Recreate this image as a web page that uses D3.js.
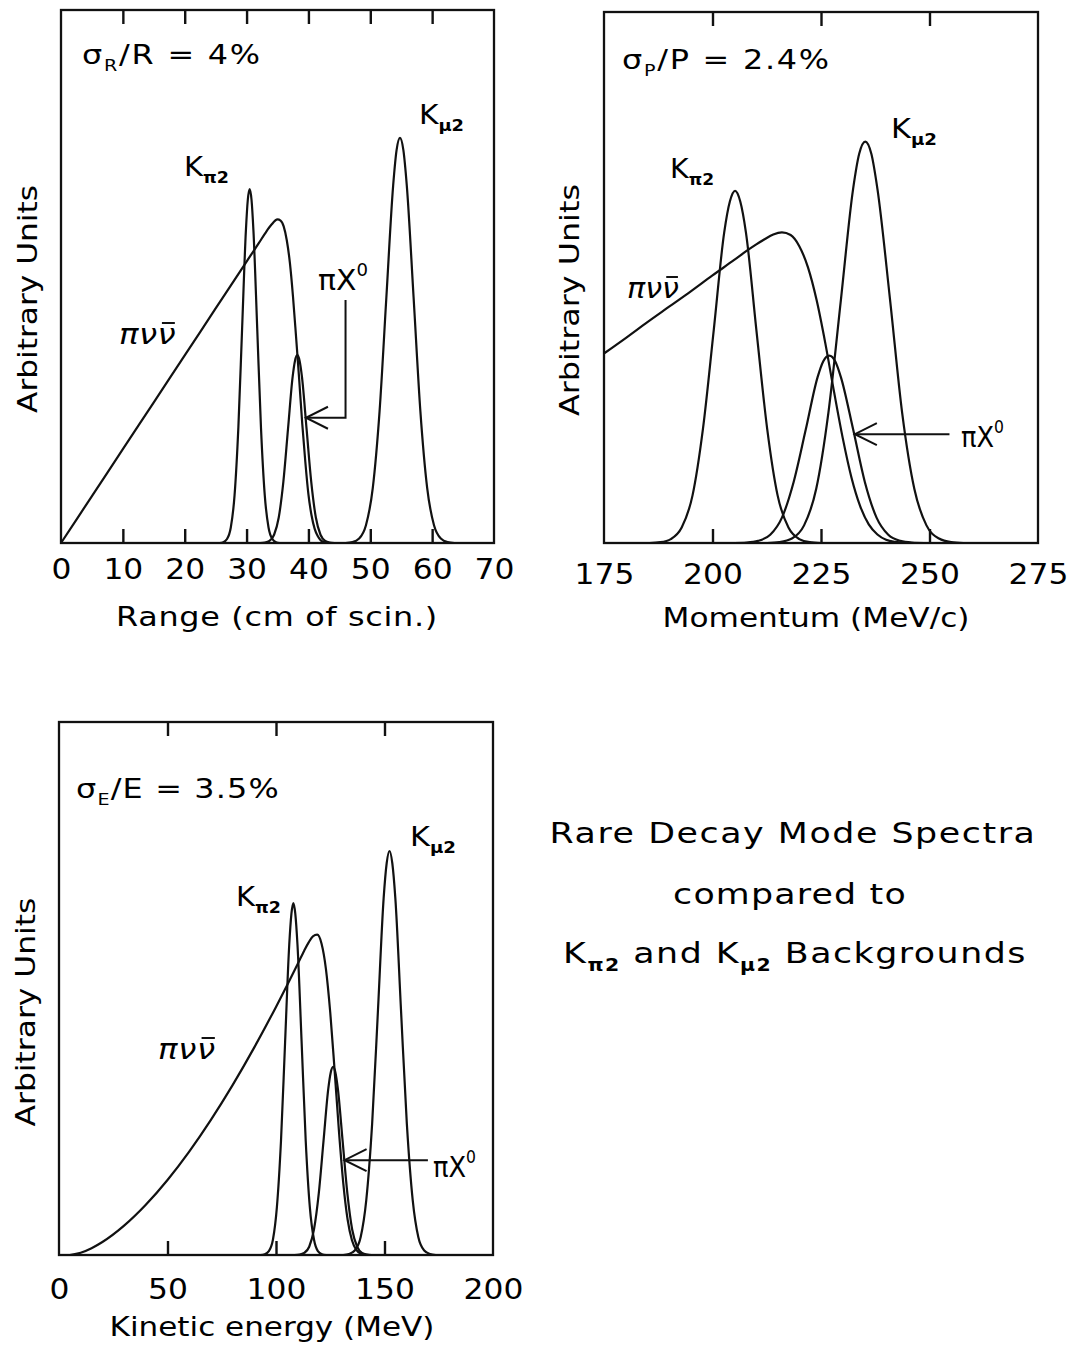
<!DOCTYPE html>
<html>
<head>
<meta charset="utf-8">
<script src="https://cdn.jsdelivr.net/npm/d3@7"></script>
<style>
  html, body { margin: 0; padding: 0; background: #fff; }
  svg { display: block; }
  text { font-family: "DejaVu Sans", sans-serif; fill: #000; }
</style>
</head>
<body>
<svg id="chart" width="1070" height="1352"></svg>
<script>
// ---------- tick values ----------
const rangeTicks = [0, 10, 20, 30, 40, 50, 60, 70];
const momentumTicks = [175, 200, 225, 250, 275];
const energyTicks = [0, 50, 100, 150, 200];

// ---------- spectra: range (cm of scintillator) ----------
const rangePnn = [[0,0],[5,8.8],[10,17.6],[15,26.4],[20,35.2],[25,44.0],[30,52.8],[32,56.3],[33,58.1],[34,59.7],[35,60.7],[35.5,60.5],[36,59.4],[36.5,56.8],[37,52.6],[37.5,46.3],[38,38.7],[38.5,30.8],[39,22.4],[39.5,15.2],[40,9.1],[40.5,5.2],[41,2.7],[41.5,1.3],[42,0.5],[42.5,0.2],[43.5,0]];
const rangeKpi2 = [[25.62,0],[26.23,0.15],[26.84,0.74],[27.45,2.91],[28.06,8.98],[28.67,21.6],[29.28,40.3],[29.89,58.6],[30.2,64.4],[30.5,66.4],[30.8,64.4],[31.11,58.6],[31.72,40.3],[32.33,21.6],[32.94,8.98],[33.55,2.91],[34.16,0.74],[34.77,0.15],[35.38,0]];
const rangeKmu2 = [[46.0,0],[47.1,0.17],[48.2,0.84],[49.3,3.34],[50.4,10.3],[51.5,24.7],[52.6,46.1],[53.7,67.1],[54.25,73.7],[54.8,76.0],[55.35,73.7],[55.9,67.1],[57.0,46.1],[58.1,24.7],[59.2,10.3],[60.3,3.34],[61.4,0.84],[62.5,0.17],[63.6,0]];
const rangePiX = [[32.2,0],[32.95,0.08],[33.7,0.39],[34.45,1.55],[35.2,4.78],[35.95,11.5],[36.7,21.4],[37.45,31.2],[37.83,34.2],[38.2,35.3],[38.57,34.2],[38.95,31.2],[39.7,21.4],[40.45,11.5],[41.2,4.78],[41.95,1.55],[42.7,0.39],[43.45,0.08],[44.2,0]];

// ---------- spectra: momentum (MeV/c) ----------
const momPnn = [[175,35.7],[180,38.6],[185,41.6],[190,44.5],[195,47.4],[200,50.4],[205,53.3],[208,55.1],[210,56.2],[212,57.2],[214,58.1],[216,58.5],[218,58.0],[220,55.9],[222,51.9],[224,45.7],[226,37.6],[228,28.5],[230,19.8],[232,12.4],[234,7.0],[236,3.5],[238,1.6],[240,0.6],[242,0.2],[244,0.07],[246,0]];
const momKpi2 = [[185.5,0],[188.0,0.15],[190.4,0.74],[192.9,2.91],[195.4,8.97],[197.8,21.5],[200.3,40.2],[202.7,58.5],[204.0,64.3],[205.2,66.3],[206.4,64.3],[207.7,58.5],[210.1,40.2],[212.6,21.5],[215.0,8.97],[217.5,2.91],[220.0,0.74],[222.4,0.15],[225.0,0]];
const momKmu2 = [[212.6,0],[215.4,0.17],[218.3,0.84],[221.1,3.32],[223.9,10.2],[226.7,24.5],[229.6,45.9],[232.4,66.7],[233.8,73.3],[235.2,75.6],[236.6,73.3],[238.0,66.7],[240.9,45.9],[243.7,24.5],[246.5,10.2],[249.3,3.32],[252.2,0.84],[255.0,0.17],[257.8,0]];
const momPiX = [[205.1,0],[207.8,0.08],[210.5,0.39],[213.3,1.55],[216.0,4.78],[218.7,11.5],[221.5,21.4],[224.2,31.2],[225.5,34.2],[226.9,35.3],[228.3,34.2],[229.6,31.2],[232.4,21.4],[235.1,11.5],[237.8,4.78],[240.5,1.55],[243.3,0.39],[246.0,0.08],[248.7,0]];

// ---------- spectra: kinetic energy (MeV) ----------
const energyPnn = [[5,0],[10,0.42],[15,1.27],[20,2.43],[30,5.5],[40,9.42],[50,14.08],[60,19.41],[70,25.36],[80,31.88],[90,38.96],[100,46.55],[105,50.5],[110,54.6],[113,57.1],[115,58.6],[117,59.8],[119,60.1],[121,58.4],[123,53.7],[125,45.5],[127,34.7],[129,23.3],[131,13.5],[133,6.66],[135,2.76],[137,0.96],[139,0.28],[141,0.07],[143,0]];
const energyKpi2 = [[92.9,0],[94.8,0.15],[96.7,0.73],[98.6,2.9],[100.4,8.93],[102.3,21.4],[104.2,40.0],[106.1,58.2],[107.1,64.0],[108.0,66.0],[108.9,64.0],[109.9,58.2],[111.8,40.0],[113.7,21.4],[115.6,8.93],[117.5,2.9],[119.3,0.73],[121.2,0.15],[123.1,0]];
const energyKmu2 = [[131.0,0],[133.6,0.17],[136.3,0.84],[139.0,3.33],[141.6,10.3],[144.3,24.6],[147.0,46.0],[149.6,66.9],[151.0,73.5],[152.3,75.8],[153.6,73.5],[155.0,66.9],[157.6,46.0],[160.3,24.6],[163.0,10.3],[165.6,3.33],[168.3,0.84],[171.0,0.17],[173.6,0]];
const energyPiX = [[108.6,0],[110.8,0.08],[113.0,0.39],[115.3,1.55],[117.5,4.78],[119.7,11.5],[121.9,21.4],[124.1,31.2],[125.2,34.2],[126.3,35.3],[127.4,34.2],[128.5,31.2],[130.7,21.4],[132.9,11.5],[135.1,4.78],[137.4,1.55],[139.6,0.39],[141.8,0.08],[144.0,0]];

// ---------- annotation anchors (data units) ----------
const rangeArrow = { tipX: 39.6, y: 23.5, bendX: 46.0, topY: 45.6 };
const momArrow = { tipX: 232.8, y: 20.5, tailX: 254.6 };
const energyArrow = { tipX: 131.6, y: 17.8, tailX: 170.0 };

const svg = d3.select("#chart");
const INK = "#111";

// A text element inside its own positioned group, so it can be widened in place.
function makeText(parent, tf, fs, anchor) {
  const g = parent.append("g").attr("transform", tf);
  const t = g.append("text").attr("font-size", fs);
  if (anchor) t.attr("text-anchor", anchor);
  return { g, t, tf };
}

// Widen glyphs (up to maxScale) and open the letter spacing so the text spans target px.
function fit(o, target, maxScale = 1.18) {
  const node = o.t.node();
  const natural = node.getComputedTextLength();
  const n = node.textContent.length;
  const sx = Math.min(maxScale, target / natural);
  const ls = (target / sx - natural) / n;
  o.t.style("letter-spacing", ls + "px");
  o.g.attr("transform", `${o.tf} scale(${sx},1)`);
  return o;
}

// Main text with a lowered subscript and optional trailing text.
function subLabel(parent, x, y, main, sub, opts = {}) {
  const fs = opts.fs || 27;
  const o = makeText(parent, `translate(${x},${y})`, fs, opts.anchor);
  o.t.append("tspan").text(main);
  o.t.append("tspan").attr("dy", fs * 0.27).attr("font-size", fs * 0.6)
    .attr("font-weight", opts.subBold ? "bold" : null).text(sub);
  if (opts.rest) o.t.append("tspan").attr("dy", -fs * 0.27).text(opts.rest);
  if (opts.width) fit(o, opts.width, opts.maxScale || 1.18);
  return o;
}

function pnnLabel(parent, x, y, width) {
  const o = makeText(parent, `translate(${x},${y})`, 29);
  o.t.attr("font-style", "italic").text("\u03c0\u03bd\u03bd");
  fit(o, width, 1.12);
  const b = o.t.node().getExtentOfChar(2);
  o.g.append("line")
    .attr("x1", b.x + 4).attr("x2", b.x + b.width - 1)
    .attr("y1", -21).attr("y2", -21)
    .attr("stroke", INK).attr("stroke-width", 2);
}

function piXLabel(parent, x, y, width) {
  const o = makeText(parent, `translate(${x},${y})`, 28);
  o.t.append("tspan").text("\u03c0X");
  o.t.append("tspan").attr("dy", -14).attr("font-size", 17).text("0");
  fit(o, width, 1.15);
}

function drawPanel(p) {
  const g = svg.append("g");
  const x = d3.scaleLinear().domain(p.domain).range([p.l, p.r]);
  const y = d3.scaleLinear().domain([0, 100]).range([p.b, p.t]);

  // ticks pointing into the frame, bottom and top
  const inner = p.ticks.slice(1, -1);
  g.append("g").attr("transform", `translate(0,${p.b})`)
    .call(d3.axisBottom(x).tickValues(inner).tickSize(-14).tickFormat(""))
    .call(s => s.select(".domain").remove())
    .selectAll("line").attr("stroke", INK).attr("stroke-width", 2.4);
  g.append("g").attr("transform", `translate(0,${p.t})`)
    .call(d3.axisTop(x).tickValues(inner).tickSize(-14).tickFormat(""))
    .call(s => s.select(".domain").remove())
    .selectAll("line").attr("stroke", INK).attr("stroke-width", 2.4);

  // tick labels
  const fs = 28;
  const lab = g.append("g").attr("transform", `translate(0,${p.b})`)
    .call(d3.axisBottom(x).tickValues(p.ticks).tickSize(0)
      .tickPadding(p.labelBase - p.b - 0.71 * fs).tickFormat(d3.format("d")));
  lab.select(".domain").remove();
  lab.attr("font-size", fs).attr("font-family", "\"DejaVu Sans\", sans-serif");
  lab.selectAll("text").attr("fill", INK).attr("transform", "scale(1.12,1)");

  // frame
  g.append("rect").attr("x", p.l).attr("y", p.t)
    .attr("width", p.r - p.l).attr("height", p.b - p.t)
    .attr("fill", "none").attr("stroke", INK).attr("stroke-width", 2.3);

  // spectra
  const line = d3.line().x(d => x(d[0])).y(d => y(d[1])).curve(d3.curveMonotoneX);
  p.series.forEach(s => {
    g.append("path").datum(s).attr("d", line)
      .attr("fill", "none").attr("stroke", INK).attr("stroke-width", 2.2)
      .attr("stroke-linejoin", "round");
  });

  // axis titles
  const xt = makeText(g, `translate(${p.xTitle.cx},${p.xTitle.y})`, 27, "middle");
  xt.t.text(p.xTitle.text);
  fit(xt, p.xTitle.w);
  const yt = makeText(g, `translate(${p.yTitle.x},${p.yTitle.cy}) rotate(-90)`, 27, "middle");
  yt.t.text("Arbitrary Units");
  fit(yt, p.yTitle.w);

  return { g, x, y };
}

function arrowHead(g, tx, ty) {
  g.append("path")
    .attr("d", `M${tx + 22},${ty - 11} L${tx},${ty} L${tx + 22},${ty + 11}`)
    .attr("fill", "none").attr("stroke", INK).attr("stroke-width", 2);
}

// ---------- panel 1: range ----------
const p1 = drawPanel({
  l: 61, r: 494, t: 10, b: 543, domain: [0, 70], ticks: rangeTicks, labelBase: 579,
  series: [rangePnn, rangeKpi2, rangeKmu2, rangePiX],
  xTitle: { text: "Range (cm of scin.)", cx: 277, y: 626, w: 322 },
  yTitle: { x: 37, cy: 299, w: 228 }
});
subLabel(p1.g, 82, 64, "\u03c3", "R", { fs: 27, rest: "/R = 4%", width: 180 });
subLabel(p1.g, 184, 176, "K", "\u03c02", { subBold: true, width: 45 });
subLabel(p1.g, 419, 124, "K", "\u03bc2", { subBold: true, width: 45 });
pnnLabel(p1.g, 119, 344, 57);
piXLabel(p1.g, 318, 290, 50);
{
  const a = rangeArrow, x = p1.x, y = p1.y;
  p1.g.append("path")
    .attr("d", `M${x(a.bendX)},${y(a.topY)} L${x(a.bendX)},${y(a.y)} L${x(a.tipX)},${y(a.y)}`)
    .attr("fill", "none").attr("stroke", INK).attr("stroke-width", 2);
  arrowHead(p1.g, x(a.tipX), y(a.y));
}

// ---------- panel 2: momentum ----------
const p2 = drawPanel({
  l: 604, r: 1038, t: 12, b: 543, domain: [175, 275], ticks: momentumTicks, labelBase: 584,
  series: [momPnn, momKpi2, momKmu2, momPiX],
  xTitle: { text: "Momentum (MeV/c)", cx: 816, y: 627, w: 307 },
  yTitle: { x: 579, cy: 300, w: 232 }
});
subLabel(p2.g, 622, 69, "\u03c3", "P", { fs: 27, rest: "/P = 2.4%", width: 209 });
subLabel(p2.g, 670, 178, "K", "\u03c02", { subBold: true, width: 44 });
subLabel(p2.g, 891, 138, "K", "\u03bc2", { subBold: true, width: 46 });
pnnLabel(p2.g, 627, 298, 52);
piXLabel(p2.g, 961, 447, 43);
{
  const a = momArrow, x = p2.x, y = p2.y;
  p2.g.append("line").attr("x1", x(a.tailX)).attr("x2", x(a.tipX))
    .attr("y1", y(a.y)).attr("y2", y(a.y)).attr("stroke", INK).attr("stroke-width", 2);
  arrowHead(p2.g, x(a.tipX), y(a.y));
}

// ---------- panel 3: kinetic energy ----------
const p3 = drawPanel({
  l: 59, r: 493, t: 722, b: 1255, domain: [0, 200], ticks: energyTicks, labelBase: 1299,
  series: [energyPnn, energyKpi2, energyKmu2, energyPiX],
  xTitle: { text: "Kinetic energy (MeV)", cx: 272, y: 1336, w: 325 },
  yTitle: { x: 35, cy: 1012, w: 229 }
});
subLabel(p3.g, 76, 798, "\u03c3", "E", { fs: 27, rest: "/E = 3.5%", width: 204 });
subLabel(p3.g, 236, 906, "K", "\u03c02", { subBold: true, width: 45 });
subLabel(p3.g, 410, 846, "K", "\u03bc2", { subBold: true, width: 46 });
pnnLabel(p3.g, 158, 1059, 58);
piXLabel(p3.g, 433, 1177, 43);
{
  const a = energyArrow, x = p3.x, y = p3.y;
  p3.g.append("line").attr("x1", x(a.tailX)).attr("x2", x(a.tipX))
    .attr("y1", y(a.y)).attr("y2", y(a.y)).attr("stroke", INK).attr("stroke-width", 2);
  arrowHead(p3.g, x(a.tipX), y(a.y));
}

// ---------- caption block ----------
const cap = svg.append("g");
const c1 = makeText(cap, "translate(793,843)", 29, "middle");
c1.t.text("Rare Decay Mode Spectra");
fit(c1, 487, 1.2);
const c2 = makeText(cap, "translate(790,904)", 29, "middle");
c2.t.text("compared to");
fit(c2, 234, 1.2);
const c3 = makeText(cap, "translate(795,963)", 29, "middle");
c3.t.append("tspan").text("K");
c3.t.append("tspan").attr("dy", 8).attr("font-size", 17).attr("font-weight", "bold").text("\u03c02");
c3.t.append("tspan").attr("dy", -8).text(" and K");
c3.t.append("tspan").attr("dy", 8).attr("font-size", 17).attr("font-weight", "bold").text("\u03bc2");
c3.t.append("tspan").attr("dy", -8).text(" Backgrounds");
fit(c3, 464, 1.2);
</script>
</body>
</html>
